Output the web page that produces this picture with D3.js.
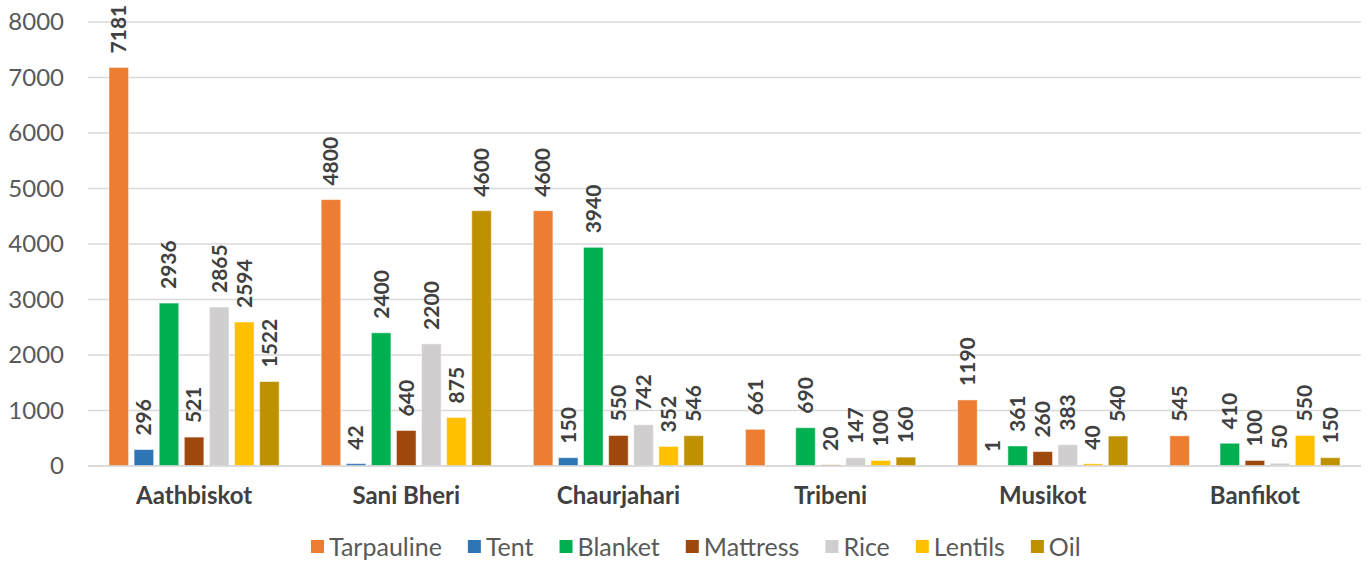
<!DOCTYPE html>
<html>
<head>
<meta charset="utf-8">
<script src="https://cdn.jsdelivr.net/npm/d3@7"></script>
<style>
  body { margin: 0; background: #fff; }
  text { font-family: Lato, "Open Sans", sans-serif; }
</style>
</head>
<body>
<div id="chart"></div>
<script>
// data
var municipalities = ["Aathbiskot", "Sani Bheri", "Chaurjahari", "Tribeni", "Musikot", "Banfikot"];
var items = ["Tarpauline", "Tent", "Blanket", "Mattress", "Rice", "Lentils", "Oil"];
var tarpauline = [7181, 4800, 4600, 661, 1190, 545];
var tent = [296, 42, 150, null, 1, null];
var blanket = [2936, 2400, 3940, 690, 361, 410];
var mattress = [521, 640, 550, 20, 260, 100];
var rice = [2865, 2200, 742, 147, 383, 50];
var lentils = [2594, 875, 352, 100, 40, 550];
var oil = [1522, 4600, 546, 160, 540, 150];
var yTicks = [0, 1000, 2000, 3000, 4000, 5000, 6000, 7000, 8000];

var colors = ["#ED7D31", "#2E75B6", "#00B050", "#9E480E", "#D0CECE", "#FFC000", "#BF9000"];
var seriesValues = [tarpauline, tent, blanket, mattress, rice, lentils, oil];

var W = 1371, H = 561;
var plotLeft = 88, plotRight = 1361, plotTop = 22, plotBottom = 466;

var svg = d3.select("#chart").append("svg")
    .attr("width", W)
    .attr("height", H);

var x0 = d3.scaleBand().domain(municipalities).range([plotLeft, plotRight]);
var x1 = d3.scaleBand().domain(items)
    .range([21, x0.bandwidth() - 21])
    .paddingInner(0.22);
var y = d3.scaleLinear().domain([0, 8000]).range([plotBottom, plotTop]);

// gridlines
svg.append("g").selectAll("line")
    .data(yTicks)
    .enter().append("line")
    .attr("x1", plotLeft).attr("x2", plotRight)
    .attr("y1", function (d) { return y(d); })
    .attr("y2", function (d) { return y(d); })
    .attr("stroke", "#d9d9d9")
    .attr("stroke-width", 1.3);

// y axis labels
var yAxis = d3.axisLeft(y).tickValues(yTicks).tickFormat(d3.format("d"))
    .tickSize(0).tickPadding(0);
var ya = svg.append("g")
    .attr("transform", "translate(64,0)")
    .call(yAxis);
ya.select(".domain").remove();
ya.selectAll("text")
    .attr("font-size", 24)
    .attr("fill", "#595959")
    .attr("font-family", "Lato");

// x axis labels
var xAxis = d3.axisBottom(x0).tickSize(0).tickPadding(0);
var xa = svg.append("g")
    .attr("transform", "translate(0,487)")
    .call(xAxis);
xa.select(".domain").remove();
xa.selectAll("text")
    .attr("font-size", 24)
    .attr("font-weight", "bold")
    .attr("fill", "#404040")
    .attr("font-family", "Lato");

// rows: one entry per (municipality, item)
var rows = [];
municipalities.forEach(function (m, i) {
    items.forEach(function (it, j) {
        rows.push({ m: m, item: it, value: seriesValues[j][i], color: colors[j] });
    });
});
var present = rows.filter(function (d) { return d.value != null; });

svg.append("g").selectAll("rect")
    .data(present)
    .enter().append("rect")
    .attr("x", function (d) { return x0(d.m) + x1(d.item); })
    .attr("y", function (d) { return y(d.value); })
    .attr("width", x1.bandwidth())
    .attr("height", function (d) { return plotBottom - y(d.value); })
    .attr("fill", function (d) { return d.color; })
    .attr("stroke", "#fff")
    .attr("stroke-opacity", 0.5)
    .attr("stroke-width", 1);

// value labels, rotated
svg.append("g").selectAll("text")
    .data(present)
    .enter().append("text")
    .attr("transform", function (d) {
        var cx = x0(d.m) + x1(d.item) + x1.bandwidth() / 2;
        return "translate(" + cx + "," + (y(d.value) - 14) + ") rotate(-90)";
    })
    .attr("dy", "0.35em")
    .attr("font-size", 21)
    .attr("font-weight", "bold")
    .attr("fill", "#404040")
    .text(function (d) { return d.value; });

// axis baseline
svg.append("line")
    .attr("x1", plotLeft).attr("x2", plotRight)
    .attr("y1", plotBottom).attr("y2", plotBottom)
    .attr("stroke", "#d9d9d9")
    .attr("stroke-width", 1.3);

// legend
var legend = svg.append("g").attr("transform", "translate(0,547)");
var lx = 311;
items.forEach(function (it, j) {
    var g = legend.append("g").attr("transform", "translate(" + lx + ",0)");
    g.append("rect")
        .attr("x", 0).attr("y", -7)
        .attr("width", 13).attr("height", 13)
        .attr("fill", colors[j]);
    var t = g.append("text")
        .attr("x", 18)
        .attr("dy", "0.35em")
        .attr("font-size", 25)
        .attr("fill", "#595959")
        .text(it);
    lx += 18 + t.node().getComputedTextLength() + 26;
});
</script>
</body>
</html>
